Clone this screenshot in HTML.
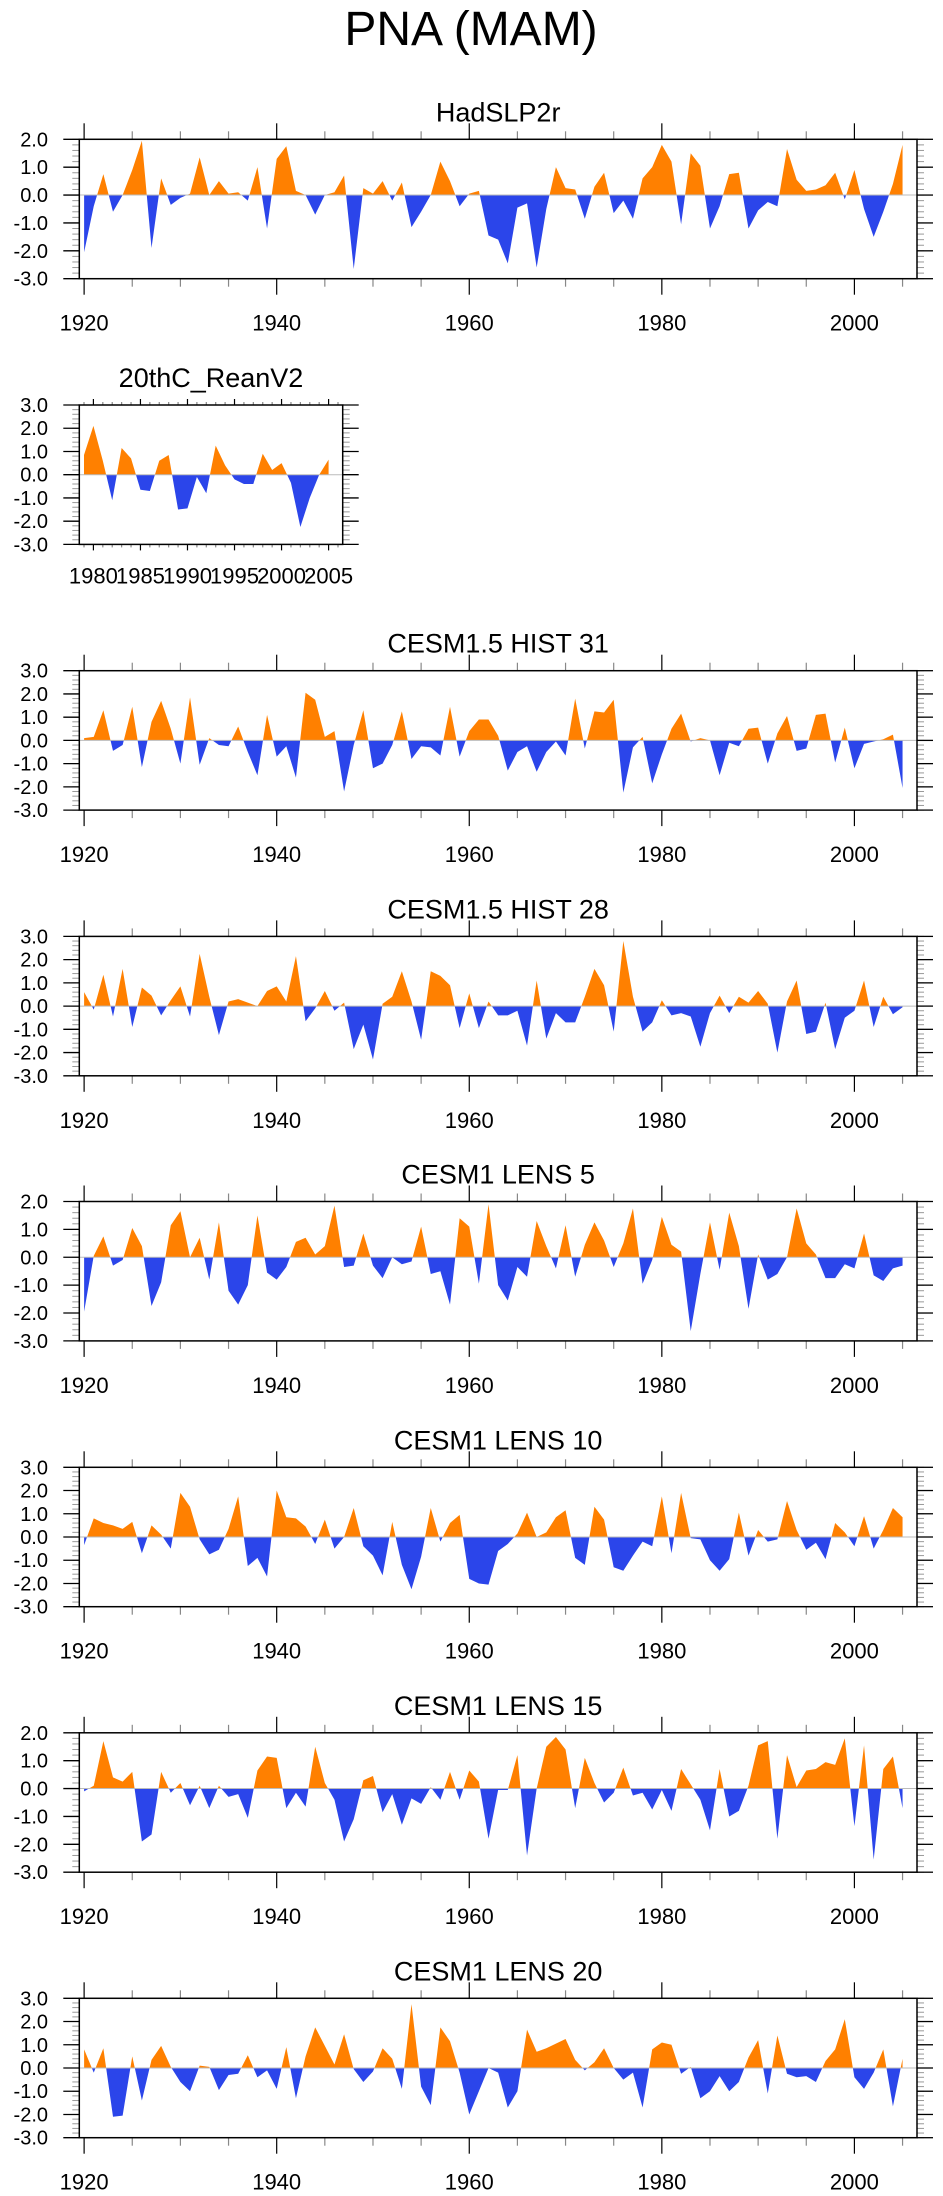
<!DOCTYPE html>
<html><head><meta charset="utf-8">
<style>
html,body{margin:0;padding:0;background:#fff;}
svg{display:block;font-family:"Liberation Sans",sans-serif;}
</style></head>
<body>
<svg id="chart" width="943" height="2196" viewBox="0 0 943 2196" xmlns="http://www.w3.org/2000/svg">
<text x="471" y="45" font-size="48" text-anchor="middle" fill="#000">PNA (MAM)</text>
</svg>
<script>
const yearsLong = [];
for (let y = 1920; y <= 2005; y++) yearsLong.push(y);
const yearsRean = [];
for (let y = 1979; y <= 2005; y++) yearsRean.push(y);

const hadslp2r = [-2.05,-0.4,0.75,-0.6,0.0,0.9,1.95,-1.9,0.6,-0.35,-0.1,0.05,1.35,0.0,0.5,0.05,0.1,-0.2,1.0,-1.2,1.3,1.75,0.15,0.0,-0.7,0.0,0.1,0.7,-2.65,0.25,0.05,0.5,-0.2,0.45,-1.15,-0.6,0.0,1.2,0.5,-0.4,0.05,0.15,-1.45,-1.6,-2.45,-0.45,-0.3,-2.6,-0.5,1.0,0.25,0.2,-0.85,0.3,0.8,-0.65,-0.2,-0.85,0.6,1.0,1.8,1.2,-1.05,1.5,1.05,-1.2,-0.4,0.75,0.8,-1.2,-0.55,-0.25,-0.4,1.65,0.55,0.15,0.2,0.35,0.8,-0.15,0.9,-0.5,-1.5,-0.6,0.4,1.8];
const rean20c = [0.85,2.1,0.6,-1.1,1.15,0.7,-0.65,-0.7,0.6,0.85,-1.5,-1.45,-0.1,-0.8,1.25,0.4,-0.2,-0.4,-0.4,0.9,0.2,0.5,-0.35,-2.25,-1.0,0.0,0.65];
const hist31 = [0.1,0.15,1.3,-0.45,-0.2,1.45,-1.15,0.8,1.7,0.5,-1.0,1.85,-1.05,0.1,-0.2,-0.25,0.6,-0.5,-1.5,1.1,-0.7,-0.25,-1.6,2.05,1.75,0.15,0.4,-2.2,-0.2,1.3,-1.2,-1.0,-0.2,1.25,-0.8,-0.25,-0.3,-0.65,1.45,-0.7,0.4,0.9,0.9,0.2,-1.3,-0.5,-0.25,-1.35,-0.5,-0.05,-0.65,1.8,-0.35,1.25,1.2,1.75,-2.25,-0.3,0.15,-1.85,-0.6,0.5,1.15,-0.05,0.1,0.0,-1.5,-0.1,-0.25,0.5,0.55,-1.0,0.3,1.05,-0.45,-0.35,1.1,1.15,-0.95,0.55,-1.2,-0.15,-0.05,0.05,0.25,-2.05];
const hist28 = [0.6,-0.15,1.35,-0.45,1.6,-0.9,0.8,0.45,-0.4,0.25,0.85,-0.45,2.25,0.4,-1.25,0.2,0.3,0.15,0.0,0.65,0.85,0.2,2.15,-0.65,-0.1,0.65,-0.2,0.15,-1.85,-0.8,-2.3,0.1,0.4,1.5,0.2,-1.45,1.5,1.3,0.9,-0.95,0.55,-0.95,0.2,-0.4,-0.4,-0.2,-1.7,1.1,-1.4,-0.3,-0.7,-0.7,0.4,1.6,0.9,-1.1,2.8,0.4,-1.1,-0.7,0.25,-0.4,-0.3,-0.45,-1.75,-0.3,0.45,-0.3,0.4,0.15,0.65,0.1,-2.0,0.2,1.1,-1.2,-1.1,0.15,-1.85,-0.5,-0.2,1.1,-0.9,0.4,-0.35,-0.05];
const lens5 = [-1.95,0.05,0.75,-0.3,-0.1,1.05,0.4,-1.75,-0.9,1.15,1.65,0.0,0.7,-0.8,1.25,-1.2,-1.7,-1.0,1.5,-0.55,-0.8,-0.35,0.55,0.7,0.1,0.4,1.85,-0.35,-0.3,0.85,-0.3,-0.75,0.0,-0.25,-0.15,1.1,-0.6,-0.5,-1.7,1.4,1.1,-0.95,1.9,-1.0,-1.55,-0.35,-0.7,1.3,0.4,-0.4,1.15,-0.7,0.45,1.25,0.6,-0.35,0.5,1.75,-0.95,-0.1,1.45,0.45,0.2,-2.65,-0.6,1.25,-0.45,1.6,0.4,-1.85,0.1,-0.8,-0.6,0.0,1.75,0.5,0.1,-0.75,-0.75,-0.25,-0.4,0.85,-0.65,-0.85,-0.4,-0.3];
const lens10 = [-0.35,0.8,0.6,0.5,0.35,0.65,-0.7,0.5,0.1,-0.5,1.9,1.3,-0.1,-0.75,-0.55,0.35,1.75,-1.25,-0.9,-1.7,2.0,0.85,0.8,0.45,-0.3,0.75,-0.5,0.0,1.25,-0.4,-0.8,-1.65,0.65,-1.2,-2.25,-0.85,1.25,-0.2,0.6,0.95,-1.8,-2.0,-2.05,-0.6,-0.3,0.15,1.05,0.0,0.2,0.85,1.15,-0.9,-1.2,1.3,0.75,-1.3,-1.45,-0.8,-0.2,-0.4,1.75,-0.7,1.9,-0.05,-0.1,-1.0,-1.45,-0.95,1.05,-0.8,0.3,-0.2,-0.1,1.55,0.3,-0.55,-0.25,-0.95,0.6,0.2,-0.4,0.9,-0.5,0.3,1.25,0.85];
const lens15 = [-0.1,0.1,1.7,0.4,0.25,0.6,-1.9,-1.65,0.6,-0.15,0.2,-0.6,0.1,-0.7,0.1,-0.3,-0.2,-1.05,0.65,1.15,1.1,-0.7,-0.15,-0.65,1.5,0.2,-0.4,-1.9,-1.1,0.3,0.45,-0.85,-0.2,-1.3,-0.35,-0.55,0.05,-0.4,0.6,-0.4,0.65,0.25,-1.8,-0.05,-0.05,1.2,-2.4,0.0,1.5,1.85,1.4,-0.7,1.1,0.2,-0.5,-0.15,0.75,-0.25,-0.15,-0.75,-0.05,-0.8,0.7,0.15,-0.4,-1.5,0.7,-1.0,-0.8,0.1,1.55,1.7,-1.8,1.2,0.05,0.65,0.7,0.95,0.85,1.8,-1.35,1.55,-2.55,0.7,1.15,-0.7];
const lens20 = [0.8,-0.2,0.85,-2.1,-2.05,0.5,-1.4,0.35,0.95,0.05,-0.6,-1.0,0.1,0.05,-0.95,-0.3,-0.25,0.55,-0.4,-0.1,-0.9,0.9,-1.3,0.5,1.75,0.95,0.15,1.45,-0.05,-0.6,-0.15,0.85,0.4,-0.9,2.75,-0.8,-1.6,1.75,1.15,-0.2,-2.0,-1.0,0.0,-0.2,-1.7,-1.0,1.65,0.7,0.85,1.05,1.25,0.35,-0.1,0.25,0.85,0.0,-0.5,-0.2,-1.7,0.8,1.1,1.0,-0.25,0.05,-1.3,-1.0,-0.35,-1.0,-0.6,0.45,1.2,-1.1,1.4,-0.25,-0.4,-0.35,-0.6,0.3,0.8,2.1,-0.4,-0.9,-0.2,0.8,-1.65,0.4];

const longTicks = [1920,1940,1960,1980,2000];
const reanTicks = [1980,1985,1990,1995,2000,2005];
const yTicks53 = [2,1,0,-1,-2,-3];
const yTicks63 = [3,2,1,0,-1,-2,-3];

const NS = "http://www.w3.org/2000/svg";
const svg = document.getElementById('chart');
function mk(tag, attrs, parent) {
  const e = document.createElementNS(NS, tag);
  for (const k in attrs) e.setAttribute(k, attrs[k]);
  (parent || svg).appendChild(e);
  return e;
}

function panel(cfg, idx) {
  const g = mk('g', {});
  
  
  const L = cfg.left, R = cfg.right, T = cfg.top, B = cfg.top + 139.4;
  const xs = v => L + (v - cfg.xmin) / (cfg.xmax - cfg.xmin) * (R - L);
  const ys = v => T + (cfg.ymax - v) / (cfg.ymax - cfg.ymin) * (B - T);
  const t = mk('text', {x: (L + R) / 2, y: T - 18, 'font-size': 27, 'text-anchor': 'middle', fill: '#000'}, g);
  t.textContent = cfg.title;
  
  
  const cid = 'clip' + idx;
  const defs = mk('defs', {}, g);
  const c1 = mk('clipPath', {id: cid + 'a'}, defs);
  mk('rect', {x: L, y: T, width: R - L, height: ys(0) - T}, c1);
  const c2 = mk('clipPath', {id: cid + 'b'}, defs);
  mk('rect', {x: L, y: ys(0), width: R - L, height: B - ys(0)}, c2);
  let pts = xs(cfg.years[0]) + ',' + ys(0) + ' ';
  cfg.values.forEach((v, i) => { pts += xs(cfg.years[i]) + ',' + ys(v) + ' '; });
  pts += xs(cfg.years[cfg.years.length - 1]) + ',' + ys(0);
  const pos = mk('polygon', {points: pts, fill: '#ff8000', 'clip-path': 'url(#' + cid + 'a)'}, g);
  
  
  const neg = mk('polygon', {points: pts, fill: '#2b45ea', 'clip-path': 'url(#' + cid + 'b)'}, g);
  
  
  mk('line', {x1: L, x2: R, y1: ys(0), y2: ys(0), stroke: '#bbb', 'stroke-width': 1}, g);
  for (let v = cfg.ymin; v <= cfg.ymax + 1e-6; v += 0.2) {
    const y = ys(v);
    mk('line', {x1: L - 7, x2: L, y1: y, y2: y, stroke: '#999', 'stroke-width': 1}, g);
    mk('line', {x1: R, x2: R + 7, y1: y, y2: y, stroke: '#999', 'stroke-width': 1}, g);
  }
  cfg.yticks.forEach(v => {
    const y = ys(v);
    mk('line', {x1: L - 16, x2: L, y1: y, y2: y, stroke: '#000', 'stroke-width': 1.3}, g);
    mk('line', {x1: R, x2: R + 16, y1: y, y2: y, stroke: '#000', 'stroke-width': 1.3}, g);
    const tx = mk('text', {x: 48, y: y + 7, 'font-size': 20, 'text-anchor': 'end', fill: '#000'}, g);
    tx.textContent = v.toFixed(1);
    
    
  });
  for (let yr = Math.ceil(cfg.xmin); yr <= cfg.xmax; yr += 1) {
    if (cfg.minorStep === 5 && yr % 5 !== 0) continue;
    const x = xs(yr);
    const major = cfg.xticks.indexOf(yr) >= 0;
    const len = major ? cfg.majorLen : cfg.minorLen;
    mk('line', {x1: x, x2: x, y1: T - len, y2: T, stroke: major ? '#000' : '#888', 'stroke-width': 1.2}, g);
    mk('line', {x1: x, x2: x, y1: B, y2: B + len, stroke: major ? '#000' : '#888', 'stroke-width': 1.2}, g);
  }
  cfg.xticks.forEach(v => {
    const tx = mk('text', {x: xs(v), y: B + cfg.labelOff, 'font-size': 22, 'text-anchor': 'middle', fill: '#000'}, g);
    tx.textContent = v;
    
    
  });
  mk('rect', {x: L, y: T, width: R - L, height: B - T, fill: 'none', stroke: '#000', 'stroke-width': 1.5}, g);
}

const panels = [
  {slug: 'hadslp2r', title: 'HadSLP2r', top: 139.3, values: hadslp2r, years: yearsLong, ymin: -3, ymax: 2, yticks: yTicks53},
  {slug: 'reanv2', title: '20thC_ReanV2', top: 405, values: rean20c, years: yearsRean, ymin: -3, ymax: 3, yticks: yTicks63, rean: true},
  {slug: 'hist31', title: 'CESM1.5 HIST 31', top: 670.7, values: hist31, years: yearsLong, ymin: -3, ymax: 3, yticks: yTicks63},
  {slug: 'hist28', title: 'CESM1.5 HIST 28', top: 936.4, values: hist28, years: yearsLong, ymin: -3, ymax: 3, yticks: yTicks63},
  {slug: 'lens5', title: 'CESM1 LENS 5', top: 1201.5, values: lens5, years: yearsLong, ymin: -3, ymax: 2, yticks: yTicks53},
  {slug: 'lens10', title: 'CESM1 LENS 10', top: 1467.3, values: lens10, years: yearsLong, ymin: -3, ymax: 3, yticks: yTicks63},
  {slug: 'lens15', title: 'CESM1 LENS 15', top: 1732.8, values: lens15, years: yearsLong, ymin: -3, ymax: 2, yticks: yTicks53},
  {slug: 'lens20', title: 'CESM1 LENS 20', top: 1998.3, values: lens20, years: yearsLong, ymin: -3, ymax: 3, yticks: yTicks63}
];
panels.forEach((p, i) => {
  if (p.rean) {
    Object.assign(p, {left: 79.3, right: 342.7, xmin: 1978.5, xmax: 2006.5, xticks: reanTicks, minorStep: 1, majorLen: 6, minorLen: 3, labelOff: 39});
  } else {
    Object.assign(p, {left: 79.3, right: 917, xmin: 1919.5, xmax: 2006.5, xticks: longTicks, minorStep: 5, majorLen: 16, minorLen: 8, labelOff: 52});
  }
  panel(p, i);
});
</script>
</body></html>
